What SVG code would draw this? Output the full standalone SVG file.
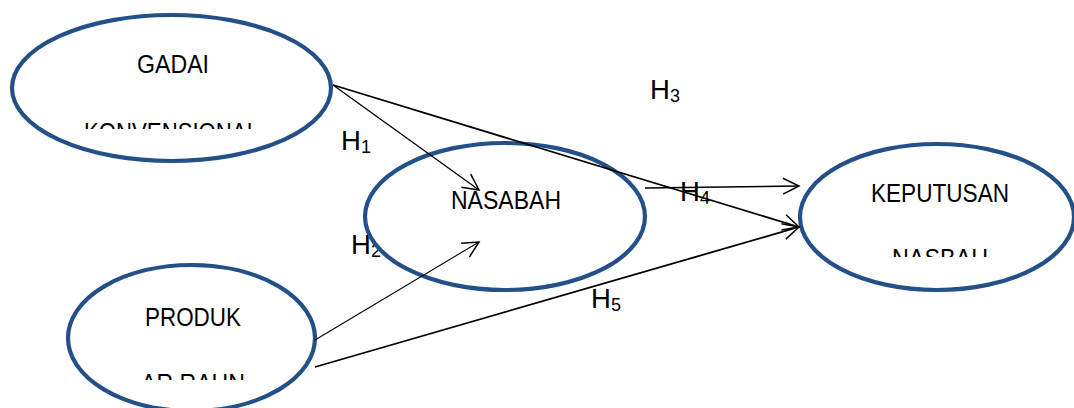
<svg xmlns="http://www.w3.org/2000/svg" width="1074" height="408" viewBox="0 0 1074 408">
<style>
.node{fill:#fff;stroke:#24508A;stroke-width:4.2}
.t{font-family:"Liberation Sans",Arial,sans-serif;font-size:26px;fill:#000}
.h{font-family:"Liberation Sans",Arial,sans-serif;font-size:27.5px;fill:#000}
.s{font-size:18px}
.c{fill:none;stroke:#000}
</style>
<defs>
<marker id="arr" markerUnits="userSpaceOnUse" viewBox="-18 -10 20 20" refX="0" refY="0" markerWidth="20" markerHeight="20" orient="auto">
<path d="M-16,-8 L0,0 L-16,8" fill="none" stroke="#000" stroke-width="1.5"/>
</marker>
<clipPath id="c1"><rect x="0" y="0" width="360" height="129"/></clipPath>
<clipPath id="c2"><rect x="780" y="140" width="294" height="117"/></clipPath>
<clipPath id="c3"><rect x="0" y="270" width="360" height="110"/></clipPath>
</defs>
<g id="labels">
<text class="h" x="341" y="150">H<tspan class="s" dy="3">1</tspan></text>
<text class="h" x="351" y="254">H<tspan class="s" dy="3">2</tspan></text>
<text class="h" x="650" y="99">H<tspan class="s" dy="3">3</tspan></text>
<text class="h" x="680" y="201">H<tspan class="s" dy="3">4</tspan></text>
<text class="h" x="591" y="308">H<tspan class="s" dy="3">5</tspan></text>
</g>
<g id="gadai">
<ellipse class="node" cx="171.5" cy="88" rx="159.5" ry="73"/>
<g clip-path="url(#c1)">
<text class="t" x="137" y="73" textLength="72" lengthAdjust="spacingAndGlyphs">GADAI</text>
<text class="t" x="84" y="140.6" textLength="175" lengthAdjust="spacingAndGlyphs">KONVENSIONAL</text>
</g>
</g>
<g id="nasabah">
<ellipse class="node" cx="505" cy="216.5" rx="140" ry="73.5"/>
<text class="t" x="451" y="209" textLength="110" lengthAdjust="spacingAndGlyphs">NASABAH</text>
</g>
<g id="keputusan">
<ellipse class="node" cx="937" cy="217" rx="137" ry="73"/>
<g clip-path="url(#c2)">
<text class="t" x="871" y="202" textLength="138" lengthAdjust="spacingAndGlyphs">KEPUTUSAN</text>
<text class="t" x="892" y="266.6" textLength="96" lengthAdjust="spacingAndGlyphs">NASBAH</text>
</g>
</g>
<g id="produk">
<ellipse class="node" cx="191.5" cy="338" rx="123.5" ry="73"/>
<g clip-path="url(#c3)">
<text class="t" x="145" y="326" textLength="96" lengthAdjust="spacingAndGlyphs">PRODUK</text>
<text class="t" x="141" y="391.6" textLength="104" lengthAdjust="spacingAndGlyphs">AR RAHN</text>
</g>
</g>
<g id="connectors">
<line class="c" stroke-width="1.3" x1="333" y1="85" x2="479" y2="190" marker-end="url(#arr)"/>
<line class="c" stroke-width="1.8" x1="333" y1="85" x2="799" y2="227" marker-end="url(#arr)"/>
<line class="c" stroke-width="1.5" x1="645" y1="188" x2="799" y2="186" marker-end="url(#arr)"/>
<line class="c" stroke-width="1.1" x1="315" y1="340" x2="479" y2="242" marker-end="url(#arr)"/>
<line class="c" stroke-width="1.8" x1="315" y1="367" x2="799" y2="227" marker-end="url(#arr)"/>
</g>
</svg>
